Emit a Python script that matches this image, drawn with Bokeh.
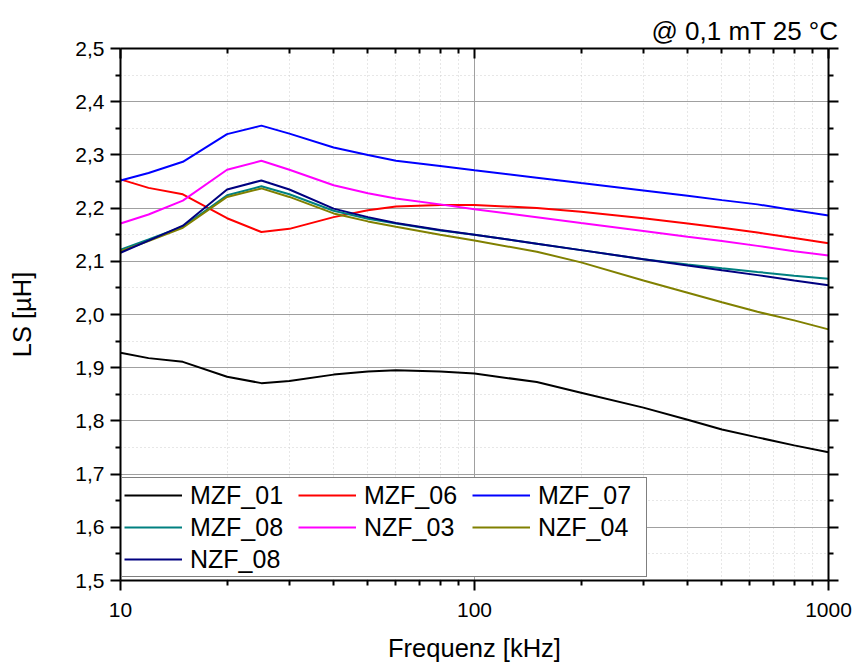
from bokeh.plotting import figure
from bokeh.models import (FixedTicker, NumeralTickFormatter, LinearAxis, LogAxis,
                          Legend, LegendItem, Title, Range1d)
from bokeh.embed import file_html
from bokeh.resources import INLINE

# ---------------- data ----------------
freq_khz = [10, 12, 15, 20, 25, 30, 40, 50, 60, 80, 100, 150, 200, 300, 400, 500, 630, 800, 1000]

mzf_01 = [1.928, 1.918, 1.911, 1.883, 1.871, 1.875, 1.887, 1.893, 1.895, 1.893, 1.889,
          1.873, 1.853, 1.825, 1.802, 1.784, 1.769, 1.754, 1.741]
mzf_06 = [2.254, 2.238, 2.226, 2.181, 2.155, 2.161, 2.183, 2.196, 2.203, 2.206, 2.206,
          2.200, 2.193, 2.181, 2.171, 2.163, 2.154, 2.144, 2.134]
mzf_07 = [2.252, 2.266, 2.287, 2.339, 2.355, 2.340, 2.314, 2.300, 2.289, 2.279, 2.271,
          2.257, 2.247, 2.233, 2.223, 2.215, 2.207, 2.196, 2.186]
mzf_08 = [2.122, 2.141, 2.165, 2.224, 2.241, 2.226, 2.195, 2.180, 2.171, 2.158, 2.150,
          2.133, 2.121, 2.104, 2.094, 2.087, 2.080, 2.073, 2.067]
nzf_03 = [2.171, 2.188, 2.214, 2.272, 2.289, 2.272, 2.243, 2.228, 2.218, 2.207, 2.198,
          2.183, 2.172, 2.157, 2.146, 2.138, 2.129, 2.119, 2.111]
nzf_04 = [2.119, 2.138, 2.163, 2.221, 2.237, 2.221, 2.190, 2.175, 2.165, 2.150, 2.139,
          2.118, 2.098, 2.064, 2.041, 2.023, 2.005, 1.989, 1.972]
nzf_08 = [2.116, 2.139, 2.167, 2.235, 2.252, 2.235, 2.199, 2.183, 2.172, 2.159, 2.150,
          2.133, 2.121, 2.104, 2.092, 2.083, 2.074, 2.064, 2.055]

series_names = ["MZF_01", "MZF_06", "MZF_07", "MZF_08", "NZF_03", "NZF_04", "NZF_08"]
series_values = [mzf_01, mzf_06, mzf_07, mzf_08, nzf_03, nzf_04, nzf_08]
series_colors = ["#000000", "#ff0000", "#0000ff", "#008080", "#ff00ff", "#808000", "#000080"]

x_major_ticks = [10, 100, 1000]
x_minor_ticks = [20, 30, 40, 50, 60, 70, 80, 90, 200, 300, 400, 500, 600, 700, 800, 900]
y_major_ticks = [1.5, 1.6, 1.7, 1.8, 1.9, 2.0, 2.1, 2.2, 2.3, 2.4, 2.5]
y_tick_labels = ["1,5", "1,6", "1,7", "1,8", "1,9", "2,0", "2,1", "2,2", "2,3", "2,4", "2,5"]
y_minor_ticks = [1.55, 1.65, 1.75, 1.85, 1.95, 2.05, 2.15, 2.25, 2.35, 2.45]

x_label = "Frequenz [kHz]"
y_label = "LS [µH]"
note = "@ 0,1 mT 25 °C"

FONT = "Liberation Sans"

# ---------------- figure ----------------
p = figure(frame_width=708, frame_height=532, x_axis_type="log",
           x_range=Range1d(10, 1000), y_range=Range1d(1.5, 2.5),
           output_backend="svg", toolbar_location=None,
           min_border_left=120, min_border_right=25, min_border_top=48, min_border_bottom=82)
p.background_fill_color = "white"
p.border_fill_color = "white"
p.outline_line_color = None

xt = FixedTicker(ticks=x_major_ticks, minor_ticks=x_minor_ticks)
yt = FixedTicker(ticks=y_major_ticks, minor_ticks=y_minor_ticks)
y_over = dict(zip(y_major_ticks, y_tick_labels))

def style_axis(ax, out=True):
    ax.axis_line_color = "black"
    ax.axis_line_width = 2
    ax.major_tick_line_color = "black"
    ax.minor_tick_line_color = "black"
    ax.major_tick_line_width = 2
    ax.minor_tick_line_width = 2
    if out:
        ax.major_tick_out = 10
        ax.major_tick_in = 0
        ax.minor_tick_out = 5
        ax.minor_tick_in = 0
    else:
        ax.major_tick_out = 0
        ax.major_tick_in = 10
        ax.minor_tick_out = 0
        ax.minor_tick_in = 5
    ax.major_label_text_font = FONT
    ax.major_label_text_font_size = "21px"
    ax.major_label_text_color = "black"
    ax.axis_label_text_font = FONT
    ax.axis_label_text_font_size = "25.5px"
    ax.axis_label_text_font_style = "normal"
    ax.axis_label_text_color = "black"

xa = p.xaxis[0]
xa.ticker = xt
xa.formatter = NumeralTickFormatter(format="0")
xa.axis_label = x_label
style_axis(xa)
xa.major_label_standoff = 12
xa.axis_label_standoff = 14

ya = p.yaxis[0]
ya.ticker = yt
ya.major_label_overrides = y_over
ya.axis_label = y_label
style_axis(ya)
ya.major_label_standoff = 6
ya.axis_label_standoff = 36

top = LogAxis(ticker=xt)
style_axis(top, out=False)
top.major_label_text_color = None
top.major_label_standoff = 0
p.add_layout(top, "above")

right = LinearAxis(ticker=yt)
style_axis(right, out=True)
right.major_label_text_color = None
right.major_label_standoff = 0
p.add_layout(right, "right")

# grids
for g in (p.xgrid[0], p.ygrid[0]):
    g.grid_line_color = "#a0a0a0"
    g.grid_line_width = 1
    g.minor_grid_line_color = "#cfcfcf"
    g.minor_grid_line_width = 1
    g.minor_grid_line_dash = "1 3"
p.xgrid[0].ticker = xt
p.ygrid[0].ticker = yt

# lines
items = []
for name, vals, col in zip(series_names, series_values, series_colors):
    r = p.line(freq_khz, vals, line_color=col, line_width=2)
    items.append(LegendItem(label=name, renderers=[r]))

legend = Legend(items=items, location=(1, 3), orientation="horizontal", ncols=3,
                label_text_font=FONT, label_text_font_size="25px", label_text_color="black",
                glyph_width=58, glyph_height=30, label_height=30, label_width=106,
                label_standoff=8, spacing=2, padding=2, margin=0,
                border_line_color="black", border_line_width=1,
                background_fill_color="white", background_fill_alpha=1)
p.add_layout(legend, "center")

title = Title(text=note, align="right", offset=-10, text_font=FONT, text_font_size="26px",
              text_font_style="normal", text_color="black", standoff=6)
p.add_layout(title, "above")

open("out.html", "w").write(file_html(p, INLINE))
